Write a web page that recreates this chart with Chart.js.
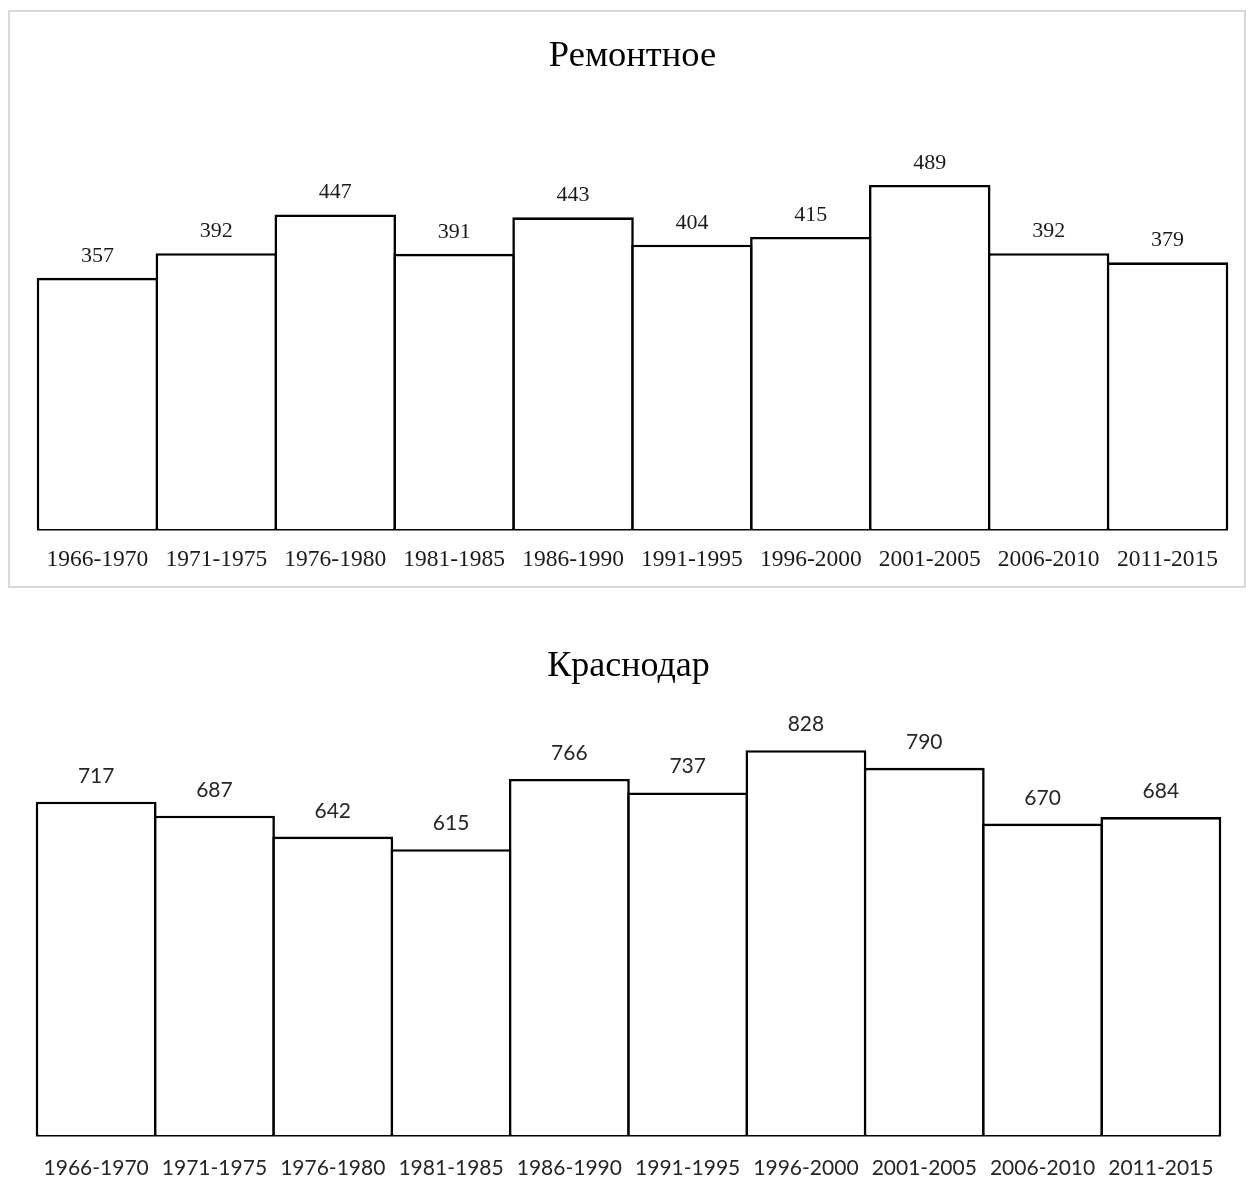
<!DOCTYPE html>
<html>
<head>
<meta charset="utf-8">
<script src="https://cdn.jsdelivr.net/npm/chart.js@4.4.1/dist/chart.umd.min.js"></script>
<style>
  html, body { margin: 0; padding: 0; background: #ffffff; }
  body { width: 1246px; height: 1178px; position: relative; overflow: hidden; }
  .frame { position: absolute; left: 8px; top: 10px; width: 1238px; height: 578px;
           border: 2px solid #d9d9d9; box-sizing: border-box; }
  .box { position: absolute; left: 0; width: 1246px; }
  #topBox { top: 0; height: 600px; }
  #bottomBox { top: 610px; height: 568px; }
</style>
</head>
<body>
<div class="frame"></div>
<div class="box" id="topBox"><canvas id="remontnoe" width="1246" height="600"></canvas></div>
<div class="box" id="bottomBox"><canvas id="krasnodar" width="1246" height="568"></canvas></div>
<script>
// Five-year periods shared by both stations
const periods = ['1966-1970', '1971-1975', '1976-1980', '1981-1985', '1986-1990',
                 '1991-1995', '1996-2000', '2001-2005', '2006-2010', '2011-2015'];

// Station totals per period
const remontnoeValues = [357, 392, 447, 391, 443, 404, 415, 489, 392, 379];
const krasnodarValues = [717, 687, 642, 615, 766, 737, 828, 790, 670, 684];

const remontnoeTitle = 'Ремонтное';
const krasnodarTitle = 'Краснодар';

// Upper bound of each value axis
const remontnoeMax = 600;
const krasnodarMax = 900;

const edge = 2.6; // outline thickness of bars and baseline

// Writes each bar's value above its top edge
const valueLabels = {
  id: 'valueLabels',
  afterDatasetsDraw(chart, args, opts) {
    const ctx = chart.ctx;
    const meta = chart.getDatasetMeta(0);
    const data = chart.data.datasets[0].data;
    ctx.save();
    ctx.font = opts.font;
    ctx.fillStyle = opts.color;
    ctx.textAlign = 'center';
    ctx.textBaseline = 'alphabetic';
    meta.data.forEach((bar, i) => {
      ctx.fillText(String(data[i]), bar.x, bar.y - opts.gap);
    });
    ctx.restore();
  }
};

function makeChart(canvasId, title, values, yMax, cfg) {
  return new Chart(document.getElementById(canvasId), {
    type: 'bar',
    data: {
      labels: periods,
      datasets: [{
        data: values,
        backgroundColor: '#ffffff',
        borderColor: '#000000',
        borderWidth: edge,
        borderSkipped: 'start',
        clip: false,
        // bars overlap by one outline width so neighbours share a single edge
        categoryPercentage: 1,
        barPercentage: cfg.barPct
      }]
    },
    options: {
      responsive: false,
      animation: false,
      events: [],
      layout: { padding: { left: cfg.left, right: cfg.right, top: 0, bottom: 0 } },
      plugins: {
        legend: { display: false },
        tooltip: { enabled: false },
        title: {
          display: true,
          text: title,
          color: '#000000',
          font: { family: 'Liberation Serif', size: cfg.titleSize, weight: 'normal' },
          padding: { top: cfg.titleTop, bottom: cfg.titleBottom }
        },
        valueLabels: { font: cfg.valueFont, color: cfg.textColor, gap: cfg.gap }
      },
      scales: {
        x: {
          z: 1,
          grid: { display: false, drawTicks: false },
          border: { display: true, color: '#000000', width: edge },
          ticks: {
            color: cfg.textColor,
            font: cfg.tickFont,
            padding: cfg.tickPad,
            maxRotation: 0,
            autoSkip: false
          },
          afterFit(scale) { scale.height = cfg.axisHeight; }
        },
        y: {
          display: false,
          min: 0,
          max: yMax
        }
      }
    },
    plugins: [valueLabels]
  });
}

makeChart('remontnoe', remontnoeTitle, remontnoeValues, remontnoeMax, {
  left: 38, right: 19,
  barPct: 1 + edge / 118.9,
  titleSize: 36.5, titleTop: 35, titleBottom: 28,
  textColor: '#1a1a1a',
  valueFont: '22px "Liberation Serif"',
  tickFont: { family: 'Liberation Serif', size: 23.5 },
  tickPad: 17,
  gap: 16,
  axisHeight: 71
});

makeChart('krasnodar', krasnodarTitle, krasnodarValues, krasnodarMax, {
  left: 37, right: 26,
  barPct: 1 + edge / 118.3,
  titleSize: 36, titleTop: 35, titleBottom: 28.5,
  textColor: '#262626',
  valueFont: '21px Lato',
  tickFont: { family: 'Lato', size: 21 },
  tickPad: 21,
  gap: 19,
  axisHeight: 43
});
</script>
</body>
</html>
